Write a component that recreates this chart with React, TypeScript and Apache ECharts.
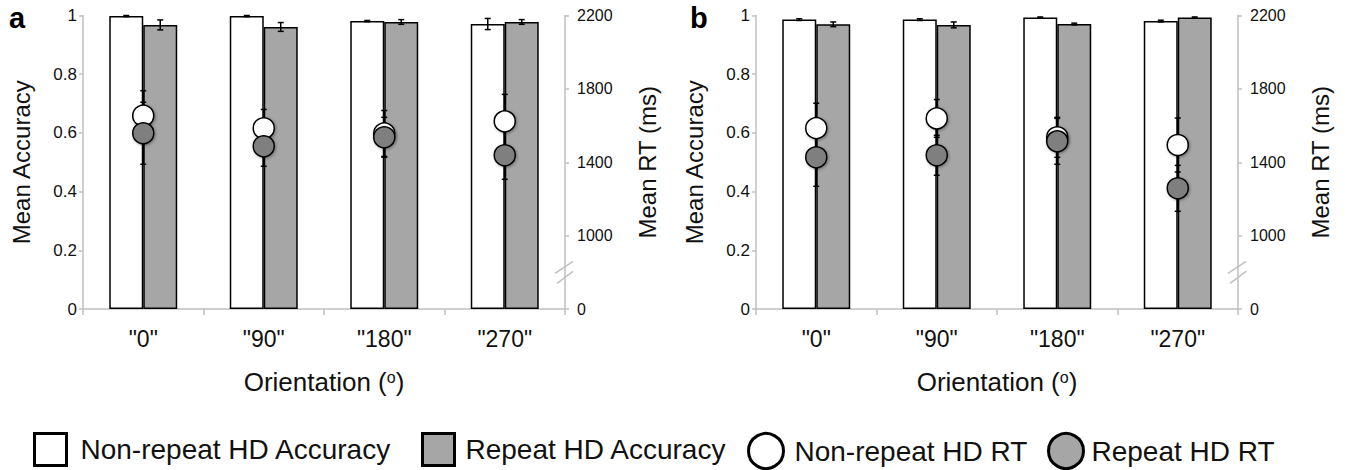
import React, { useEffect, useRef } from "react";
import * as echarts from "echarts";

const categories = ['"0"', '"90"', '"180"', '"270"'];

// Panel a
const accNonRepA = [0.998, 0.998, 0.981, 0.971];
const accNonRepErrA = [0.002, 0.002, 0.002, 0.019];
const accRepA = [0.968, 0.961, 0.978, 0.978];
const accRepErrA = [0.017, 0.015, 0.008, 0.008];
const rtNonRepA = [1654, 1585, 1557, 1623];
const rtNonRepErrA = [136, 103, 125, 147];
const rtRepA = [1558, 1487, 1536, 1438];
const rtRepErrA = [169, 109, 109, 131];

// Panel b
const accNonRepB = [0.986, 0.986, 0.993, 0.981];
const accNonRepErrB = [0.003, 0.003, 0.002, 0.003];
const accRepB = [0.97, 0.968, 0.971, 0.993];
const accRepErrB = [0.008, 0.01, 0.003, 0.002];
const rtNonRepB = [1586, 1639, 1536, 1494];
const rtNonRepErrB = [136, 103, 109, 147];
const rtRepB = [1427, 1438, 1514, 1258];
const rtRepErrB = [158, 109, 125, 125];

const accTicks = [0, 0.2, 0.4, 0.6, 0.8, 1];
const rtMin = 600; // axis break: bottom of RT axis is labelled "0"
const rtMax = 2200;
const rtInterval = 400;
const rtBreakValue = 800;

const NAMES = {
  accNon: "Non-repeat HD Accuracy",
  accRep: "Repeat HD Accuracy",
  rtNon: "Non-repeat HD RT",
  rtRep: "Repeat HD RT",
};

const FONT = "'Liberation Sans', Arial, Helvetica, sans-serif";
const AXIS_GRAY = "#bfbfbf";
const BAR_GRAY = "#a6a6a6";
const DOT_GRAY = "#7f7f7f";

function errRender(frac: number, capHalf: number) {
  return (params: any, api: any) => {
    const i = api.value(0);
    const v = api.value(1);
    const e = api.value(2);
    const band = api.size([1, 0])[0];
    const c = api.coord([i, v]);
    const x = c[0] + band * frac;
    const yTop = api.coord([i, v + e])[1];
    const yBot = api.coord([i, v - e])[1];
    const style = { stroke: "#000", lineWidth: 1.5 };
    return {
      type: "group",
      children: [
        { type: "line", shape: { x1: x, y1: yTop, x2: x, y2: yBot }, style },
        { type: "line", shape: { x1: x - capHalf, y1: yTop, x2: x + capHalf, y2: yTop }, style },
        { type: "line", shape: { x1: x - capHalf, y1: yBot, x2: x + capHalf, y2: yBot }, style },
      ],
    };
  };
}

function errSeries(xi: number, yi: number, vals: number[], errs: number[], frac: number, z: number) {
  return {
    type: "custom",
    xAxisIndex: xi,
    yAxisIndex: yi,
    z,
    silent: true,
    renderItem: errRender(frac, 3),
    encode: { x: 0, y: 1 },
    data: vals.map((v, i) => [i, v, errs[i]]),
  };
}

const BAR_FRAC = 0.141;

function panelSeries(
  xi: number,
  yAcc: number,
  yRt: number,
  accNon: number[],
  accNonErr: number[],
  accRep: number[],
  accRepErr: number[],
  rtNon: number[],
  rtNonErr: number[],
  rtRep: number[],
  rtRepErr: number[]
) {
  const dotBase = {
    type: "scatter",
    xAxisIndex: xi,
    yAxisIndex: yRt,
    symbol: "circle",
    symbolSize: 21,
  };
  return [
    {
      type: "bar",
      name: NAMES.accNon,
      xAxisIndex: xi,
      yAxisIndex: yAcc,
      barWidth: "28.2%",
      barGap: "0%",
      z: 2,
      itemStyle: { color: "#fff", borderColor: "#000", borderWidth: 1.5 },
      data: accNon,
    },
    {
      type: "bar",
      name: NAMES.accRep,
      xAxisIndex: xi,
      yAxisIndex: yAcc,
      barWidth: "28.2%",
      barGap: "0%",
      z: 2,
      itemStyle: { color: BAR_GRAY, borderColor: "#000", borderWidth: 1.5 },
      data: accRep,
    },
    errSeries(xi, yAcc, accNon, accNonErr, -BAR_FRAC, 3),
    errSeries(xi, yAcc, accRep, accRepErr, BAR_FRAC, 3),
    errSeries(xi, yRt, rtNon, rtNonErr, 0, 4),
    errSeries(xi, yRt, rtRep, rtRepErr, 0, 4),
    {
      ...dotBase,
      name: NAMES.rtNon,
      z: 5,
      itemStyle: {
        color: "#fff",
        opacity: 1,
        borderColor: "#000",
        borderWidth: 1.5,
        shadowBlur: 3,
        shadowColor: "rgba(0,0,0,0.35)",
        shadowOffsetX: 1,
        shadowOffsetY: 1,
      },
      data: rtNon,
    },
    {
      ...dotBase,
      name: NAMES.rtRep,
      z: 6,
      itemStyle: {
        color: DOT_GRAY,
        opacity: 1,
        borderColor: "#000",
        borderWidth: 1.5,
        shadowBlur: 3,
        shadowColor: "rgba(0,0,0,0.35)",
        shadowOffsetX: 1,
        shadowOffsetY: 1,
      },
      data: rtRep,
    },
  ];
}

function xAxisDef(gridIndex: number) {
  return {
    type: "category",
    gridIndex,
    data: categories,
    axisLine: { lineStyle: { color: AXIS_GRAY, width: 1.5 } },
    axisTick: { show: true, length: 6, lineStyle: { color: AXIS_GRAY, width: 1.5 } },
    axisLabel: { color: "#111", fontSize: 23, fontFamily: FONT, margin: 18 },
    name: "Orientation ({sup|o})",
    nameLocation: "middle",
    nameGap: 60,
    nameTextStyle: {
      color: "#111",
      fontSize: 26,
      fontFamily: FONT,
      rich: {
        sup: { fontSize: 16, fontFamily: FONT, color: "#111", padding: [0, 0, 10, 0] },
      },
    },
  };
}

function accAxisDef(gridIndex: number) {
  return {
    type: "value",
    gridIndex,
    position: "left",
    min: 0,
    max: 1,
    interval: 0.2,
    splitLine: { show: false },
    axisLine: { show: true, lineStyle: { color: AXIS_GRAY, width: 1.5 } },
    axisTick: { show: true, length: 4, lineStyle: { color: AXIS_GRAY, width: 1.5 } },
    axisLabel: {
      color: "#111",
      fontSize: 17,
      fontFamily: FONT,
      margin: 6,
      formatter: (v: number) => {
        const t = accTicks.find((a) => Math.abs(a - v) < 1e-9);
        return t === undefined ? "" : String(t);
      },
    },
    name: "Mean Accuracy",
    nameLocation: "middle",
    nameRotate: 90,
    nameGap: 50,
    nameTextStyle: { color: "#111", fontSize: 24, fontFamily: FONT },
  };
}

function rtAxisDef(gridIndex: number) {
  return {
    type: "value",
    gridIndex,
    position: "right",
    min: rtMin,
    max: rtMax,
    interval: rtInterval,
    splitLine: { show: false },
    axisLine: { show: true, lineStyle: { color: AXIS_GRAY, width: 1.5 } },
    axisTick: { show: true, length: 4, lineStyle: { color: AXIS_GRAY, width: 1.5 } },
    axisLabel: {
      color: "#111",
      fontSize: 16,
      fontFamily: FONT,
      margin: 12,
      formatter: (v: number) => (v === rtMin ? "0" : String(v)),
    },
    name: "Mean RT (ms)",
    nameLocation: "middle",
    nameRotate: 90,
    nameGap: 70,
    nameTextStyle: { color: "#111", fontSize: 24, fontFamily: FONT },
  };
}

function legendDef(left: number, name: string, icon: string, fill: string, size: number, pad: number) {
  const style = { color: fill, borderColor: "#000", borderWidth: 3, shadowBlur: 0, shadowColor: "transparent" };
  return {
    left,
    top: 432,
    padding: 0,
    itemWidth: size,
    itemHeight: size,
    selectedMode: false,
    itemStyle: style,
    textStyle: { color: "#111", fontSize: 28, fontFamily: FONT, padding: [0, 0, 0, pad] },
    data: [{ name, icon, itemStyle: style }],
  };
}

export default function App() {
  const ref = useRef<HTMLDivElement>(null);

  useEffect(() => {
    document.body.style.margin = "0";
    if (!ref.current) return;
    const chart = echarts.init(ref.current, undefined, { renderer: "svg" });

    const option: any = {
      animation: false,
      backgroundColor: "#fff",
      textStyle: { fontFamily: FONT },
      grid: [
        { left: 83, right: 780, top: 15.5, bottom: 161, containLabel: false },
        { left: 756, right: 107, top: 15.5, bottom: 161, containLabel: false },
      ],
      xAxis: [xAxisDef(0), xAxisDef(1)],
      yAxis: [accAxisDef(0), rtAxisDef(0), accAxisDef(1), rtAxisDef(1)],
      legend: [
        legendDef(33, NAMES.accNon, "rect", "#fff", 32, 9),
        legendDef(421, NAMES.accRep, "rect", BAR_GRAY, 32, 6),
        legendDef(747, NAMES.rtNon, "circle", "#fff", 35, 6),
        legendDef(1047, NAMES.rtRep, "circle", BAR_GRAY, 35, 3),
      ],
      series: [
        ...panelSeries(0, 0, 1, accNonRepA, accNonRepErrA, accRepA, accRepErrA, rtNonRepA, rtNonRepErrA, rtRepA, rtRepErrA),
        ...panelSeries(1, 2, 3, accNonRepB, accNonRepErrB, accRepB, accRepErrB, rtNonRepB, rtNonRepErrB, rtRepB, rtRepErrB),
      ],
    };
    chart.setOption(option);

    // axis break marks and panel letters
    const breakStyle = { stroke: "#c0c0c0", lineWidth: 1.5 };
    const graphics: any[] = [];
    [
      { yi: 1, xi: 0 },
      { yi: 3, xi: 1 },
    ].forEach(({ yi, xi }) => {
      const y = chart.convertToPixel({ yAxisIndex: yi }, rtBreakValue) as number;
      const lastCat = chart.convertToPixel({ xAxisIndex: xi }, categories[categories.length - 1]) as number;
      const firstCat = chart.convertToPixel({ xAxisIndex: xi }, categories[0]) as number;
      const band = (lastCat - firstCat) / (categories.length - 1);
      const x = lastCat + band / 2;
      graphics.push(
        { type: "line", z: 10, shape: { x1: x - 10, y1: y + 1, x2: x + 8, y2: y - 11 }, style: breakStyle },
        { type: "line", z: 10, shape: { x1: x - 8, y1: y + 11, x2: x + 8, y2: y - 1 }, style: breakStyle }
      );
    });
    graphics.push(
      { type: "text", left: 9, top: 3, style: { text: "a", font: `bold 29px ${FONT}`, fill: "#000" } },
      { type: "text", left: 690, top: 3, style: { text: "b", font: `bold 29px ${FONT}`, fill: "#000" } }
    );
    chart.setOption({ graphic: graphics });

    return () => chart.dispose();
  }, []);

  return <div ref={ref} style={{ width: 1345, height: 470 }} />;
}
